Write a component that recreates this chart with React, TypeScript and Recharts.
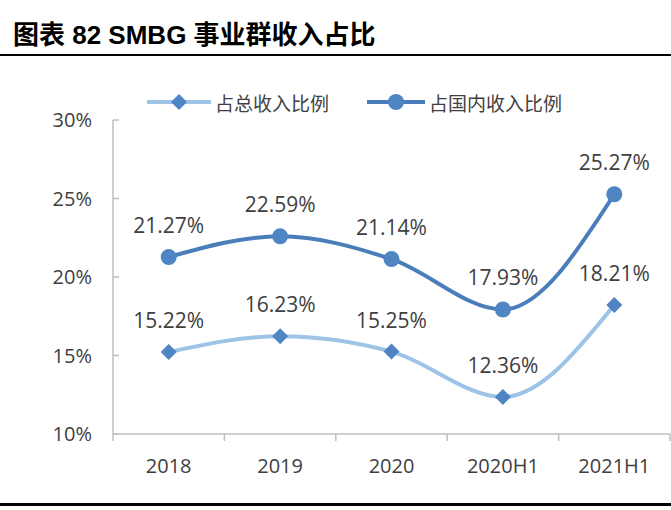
import { LineChart, Line, XAxis, YAxis, Legend, LabelList } from "recharts";

const categories = ["2018", "2019", "2020", "2020H1", "2021H1"];
const totalShare = [15.22, 16.23, 15.25, 12.36, 18.21];
const domesticShare = [21.27, 22.59, 21.14, 17.93, 25.27];
const yTicks = [10, 15, 20, 25, 30];

const data = categories.map((label, i) => ({
  label,
  total: totalShare[i],
  domestic: domesticShare[i],
}));

const LIGHT = "#9dc3e6";
const DARK = "#4a7ebb";
const MARK = "#4f85c2";
const TEXT = "#404040";
const AXIS = "#bfbfbf";
const NUM_FONT = "'Open Sans', sans-serif";
const CJK_FONT = "'Noto Sans CJK SC', sans-serif";

const Diamond = (props: any) => {
  const { cx, cy } = props;
  if (cx == null || cy == null) return null;
  const r = 8;
  return <path d={`M${cx},${cy - r}L${cx + r},${cy}L${cx},${cy + r}L${cx - r},${cy}Z`} fill={MARK} />;
};

const Circle = (props: any) => {
  const { cx, cy } = props;
  if (cx == null || cy == null) return null;
  return <circle cx={cx} cy={cy} r={8} fill={MARK} />;
};

const XTick = (props: any) => {
  const { x, y, payload, index } = props;
  const half = 111.4 / 2;
  return (
    <g>
      <line x1={x - half} x2={x - half} y1={y - 8} y2={y - 1} stroke={AXIS} strokeWidth={1.5} />
      {index === categories.length - 1 && (
        <line x1={x + half} x2={x + half} y1={y - 8} y2={y - 1} stroke={AXIS} strokeWidth={1.5} />
      )}
      <text x={x} y={y + 31} textAnchor="middle" fill={TEXT} fontSize={20} fontFamily={NUM_FONT}>
        {payload.value}
      </text>
    </g>
  );
};

// tick marks sit inside the plot, to the right of the axis line
const YTick = (props: any) => {
  const { x, y, payload } = props;
  return (
    <g>
      <line x1={x + 21} x2={x + 27} y1={y} y2={y} stroke={AXIS} strokeWidth={1.5} />
      <text x={x} y={y} dy={7} textAnchor="end" fill={TEXT} fontSize={20} fontFamily={NUM_FONT}>
        {`${payload.value}%`}
      </text>
    </g>
  );
};

const LegendContent = () => (
  <div style={{ display: "flex", alignItems: "center", height: 26, fontFamily: CJK_FONT, fontSize: 19, color: TEXT }}>
    <svg width={64} height={20} style={{ marginLeft: 147 }}>
      <line x1={0} x2={64} y1={10} y2={10} stroke={LIGHT} strokeWidth={4} />
      <path d="M32,2L40,10L32,18L24,10Z" fill={MARK} />
    </svg>
    <span style={{ marginLeft: 4 }}>占总收入比例</span>
    <svg width={58} height={20} style={{ marginLeft: 38 }}>
      <line x1={0} x2={58} y1={10} y2={10} stroke={DARK} strokeWidth={4} />
      <circle cx={29} cy={10} r={8} fill={MARK} />
    </svg>
    <span style={{ marginLeft: 4 }}>占国内收入比例</span>
  </div>
);

export default function App() {
  return (
    <div style={{ position: "absolute", left: 0, top: 0, width: 671, height: 510, background: "#fff", overflow: "hidden" }}>
      <div
        style={{
          position: "absolute",
          left: 13,
          top: 20,
          fontSize: 26,
          fontWeight: "bold",
          fontFamily: "'Liberation Sans', 'Noto Sans CJK SC', sans-serif",
          color: "#000",
          lineHeight: "30px",
        }}
      >
        图表 82 SMBG 事业群收入占比
      </div>
      <div style={{ position: "absolute", left: 0, top: 54, width: 671, height: 2, background: "#000" }} />
      <div style={{ position: "absolute", left: 0, top: 503, width: 671, height: 3, background: "#000" }} />
      <div style={{ position: "absolute", left: 0, top: 0 }}>
        <LineChart width={671} height={510} data={data} margin={{ top: 94, right: 1, bottom: 36, left: 0 }}>
          <Legend
            verticalAlign="top"
            align="left"
            content={<LegendContent />}
            wrapperStyle={{ position: "absolute", top: 89, left: 0, width: 671 }}
          />
          <XAxis
            dataKey="label"
            scale="band"
            height={40}
            stroke={AXIS}
            strokeWidth={1.5}
            tickLine={false}
            tick={<XTick />}
            interval={0}
          />
          <YAxis
            domain={[10, 30]}
            ticks={yTicks}
            width={113}
            stroke={AXIS}
            strokeWidth={1.5}
            tickLine={false}
            tickSize={0}
            tickMargin={21}
            tick={<YTick />}
          />
          <Line
            type="monotone"
            dataKey="total"
            stroke={LIGHT}
            strokeWidth={4}
            dot={<Diamond />}
            activeDot={false}
            isAnimationActive={false}
          >
            <LabelList
              dataKey="total"
              position="top"
              offset={24}
              formatter={(v: number) => `${v.toFixed(2)}%`}
              style={{ fill: TEXT, fontSize: 21, fontFamily: NUM_FONT }}
            />
          </Line>
          <Line
            type="monotone"
            dataKey="domestic"
            stroke={DARK}
            strokeWidth={4}
            dot={<Circle />}
            activeDot={false}
            isAnimationActive={false}
          >
            <LabelList
              dataKey="domestic"
              position="top"
              offset={24}
              formatter={(v: number) => `${v.toFixed(2)}%`}
              style={{ fill: TEXT, fontSize: 21, fontFamily: NUM_FONT }}
            />
          </Line>
        </LineChart>
      </div>
    </div>
  );
}
